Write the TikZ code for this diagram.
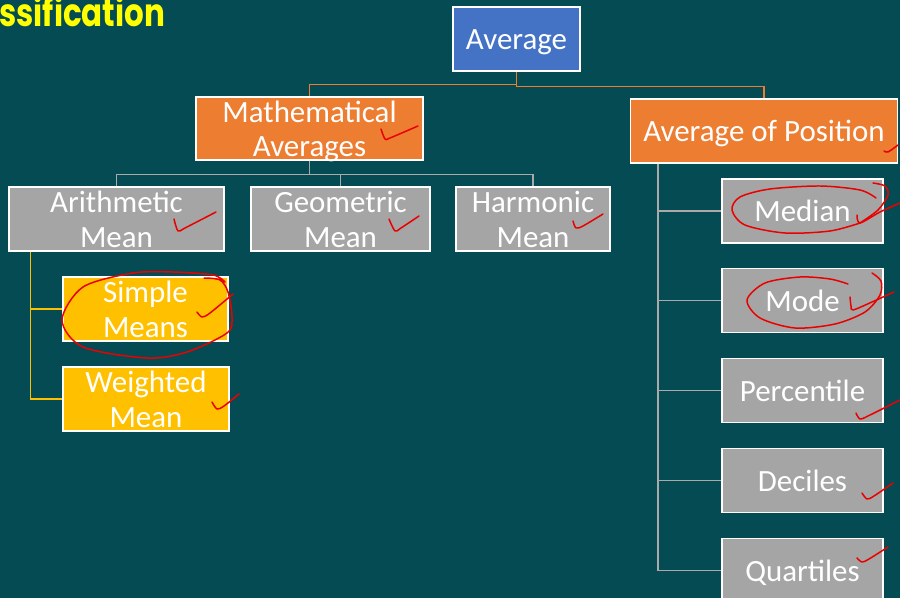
\documentclass[tikz,border=0pt]{standalone}
\usepackage{fontspec}
\setmainfont{Carlito}
\newfontfamily\titlefont{Poppins}
\usetikzlibrary{calc}
\definecolor{bgteal}{RGB}{4,75,83}
\definecolor{boxblue}{RGB}{68,114,196}
\definecolor{boxorange}{RGB}{237,125,49}
\definecolor{boxgrey}{RGB}{165,165,165}
\definecolor{boxyellow}{RGB}{255,192,0}
\definecolor{titleyellow}{RGB}{255,255,0}
\definecolor{linegrey}{RGB}{170,170,170}
\definecolor{penred}{RGB}{235,0,0}
\newcommand{\lowertext}[1]{\raisebox{-2.3pt}[\dimexpr\height-5pt\relax][\dimexpr\depth-5pt\relax]{\begin{tabular}{@{}c@{}}#1\end{tabular}}}
\begin{document}
\begin{tikzpicture}[x=0.02cm,y=-0.02cm,
  box/.style={draw=white, line width=0.8pt, text=white,
    font=\fontsize{17.6}{19.8}\selectfont, align=center,
    inner sep=0pt, minimum height=1.28cm},
  bluebox/.style={box, fill=boxblue},
  orangebox/.style={box, fill=boxorange},
  greybox/.style={box, fill=boxgrey},
  yellowbox/.style={box, fill=boxyellow},
  oline/.style={draw=boxorange, line width=0.8pt},
  gline/.style={draw=linegrey, line width=0.8pt},
  yline/.style={draw=boxyellow, line width=0.8pt},
  redpen/.style={draw=penred, line width=0.85pt, line cap=round, line join=round}]
\useasboundingbox (0,0) rectangle (900,598);
\clip (0,0) rectangle (900,598);
\fill[bgteal] (0,0) rectangle (900,598);

% title
\node[anchor=base west, inner sep=0pt, text=titleyellow,
      font=\titlefont\bfseries\fontsize{22}{24}\selectfont] (title) at (-1,27) {\scalebox{0.8}[1]{ssification}};

% boxes
\node[bluebox, minimum width=2.54cm] (avg) at (516.5,39) {\lowertext{Average}};
\node[orangebox, minimum width=4.54cm, minimum height=1.26cm] (math) at (309.5,128.5) {\lowertext{Mathematical\\Averages}};
\node[orangebox, minimum width=5.34cm] (pos) at (764,131) {\lowertext{Average of Position}};

\node[greybox, minimum width=4.30cm] (arith) at (116.5,219) {\lowertext{Arithmetic\\Mean}};
\node[greybox, minimum width=3.58cm] (geom) at (340.5,219) {\lowertext{Geometric\\Mean}};
\node[greybox, minimum width=3.08cm] (harm) at (533,219) {\lowertext{Harmonic\\Mean}};

\node[yellowbox, minimum width=3.30cm] (simple) at (145.5,309) {\lowertext{Simple\\Means}};
\node[yellowbox, minimum width=3.32cm] (weighted) at (146,399) {\lowertext{Weighted\\Mean}};

\node[greybox, minimum width=3.22cm] (median) at (802.5,211) {\lowertext{Median}};
\node[greybox, minimum width=3.22cm] (mode) at (802.5,300.5) {\lowertext{Mode}};
\node[greybox, minimum width=3.22cm] (perc) at (802.5,390.5) {\lowertext{Percentile}};
\node[greybox, minimum width=3.22cm] (dec) at (802.5,480.5) {\lowertext{Deciles}};
\node[greybox, minimum width=3.22cm] (quart) at (802.5,570.5) {\lowertext{Quartiles}};

% connectors
\draw[oline] (avg.south) -- ++(0,13) -| (math.north);
\draw[oline] (avg.south) -- ++(0,15) -| (pos.north);

\draw[gline] (math.south) -- ++(0,14) -| (arith.north);
\draw[gline] (math.south) -- ++(0,14) -| (geom.north);
\draw[gline] (math.south) -- ++(0,14) -| (harm.north);

\coordinate (ay) at ($(arith.south west)+(22,0)$);
\draw[yline] (ay) |- (simple.west);
\draw[yline] (ay) |- (weighted.west);

\coordinate (py) at ($(pos.south west)+(28,0)$);
\draw[gline] (py) |- (median.west);
\draw[gline] (py) |- (mode.west);
\draw[gline] (py) |- (perc.west);
\draw[gline] (py) |- (dec.west);
\draw[gline] (py) |- (quart.west);

% red hand annotations
\draw[redpen] plot[smooth] coordinates {(381,129) (385,139) (390,138) (418,126)};
\draw[redpen] plot[smooth] coordinates {(884,151) (888,152) (898,145)};
\draw[redpen] plot[smooth] coordinates {(174,219) (178,231) (185,228) (216,212)};
\draw[redpen] plot[smooth] coordinates {(389,219) (395,231) (401,228) (419,216)};
\draw[redpen] plot[smooth] coordinates {(573,221) (576,228) (583,226) (603,214)};
\draw[redpen] plot[smooth] coordinates {(204,278) (220,280) (228,292) (232,317) (227,333) (187,352) (147,358) (83,347) (62,320) (83,287) (133,273) (173,272) (213,275) (225,282)};
\draw[redpen] plot[smooth] coordinates {(197,312) (202,317) (210,313) (233,294)};
\draw[redpen] plot[smooth] coordinates {(212,402) (217,409) (224,406) (239,394)};
\draw[redpen] plot[smooth] coordinates {(876,198) (860,190) (820,186) (770,189) (740,197) (732,210) (745,225) (785,233) (830,231) (860,223)};
\draw[redpen] plot[smooth] coordinates {(873,183) (885,186) (888,195) (878,210) (860,223)};
\draw[redpen] plot[smooth] coordinates {(857,215) (860,223) (880,212) (900,203)};
\draw[redpen] plot[smooth] coordinates {(848,284) (830,279) (800,277) (765,283) (747,300) (760,318) (795,328) (835,324) (865,312) (880,295) (881,281) (872,273)};
\draw[redpen] plot[smooth] coordinates {(850,297) (851,306) (853,310) (872,302) (894,292)};
\draw[redpen] plot[smooth] coordinates {(856,413) (860,419) (868,416) (900,400)};
\draw[redpen] plot[smooth] coordinates {(862,493) (867,499) (874,496) (893,483)};
\draw[redpen] plot[smooth] coordinates {(857,558) (862,562) (869,559) (888,547)};
\end{tikzpicture}
\end{document}
